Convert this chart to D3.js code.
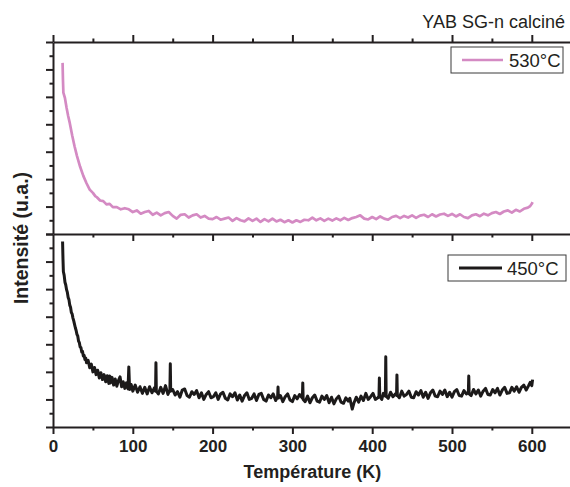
<!DOCTYPE html>
<html><head><meta charset="utf-8">
<script src="https://cdn.jsdelivr.net/npm/d3@7"></script>
<style>
html,body{margin:0;padding:0;background:#fff;}
svg{display:block;font-family:"Liberation Sans",Arial,sans-serif;}
</style></head>
<body><svg id="c" width="570" height="487"></svg>
<script>
// ---- data ----
const title = "YAB SG-n calciné";
const xLabel = "Température (K)";
const yLabel = "Intensité (u.a.)";
const xTicks = [0, 100, 200, 300, 400, 500, 600];
const xMinor = [50, 150, 250, 350, 450, 550];
const yTicks = [0, 1, 2, 3, 4, 5, 6, 7];
const yMinor = [0.5, 1.5, 2.5, 3.5, 4.5, 5.5, 6.5];
const seriesNames = ["530°C", "450°C"];

const pink530 = [[12,6.24],[12.5,5.6],[13,5.15],[15,4.95],[17,4.6],[19,4.3],[21,4.05],[24,3.6],[27,3.2],[30,2.85],[34,2.45],[38,2.12],[42,1.85],[46,1.62],[50,1.5],[53,1.38],[55,1.34],[59,1.22],[63,1.2],[67,1.08],[71,1.1],[75,0.98],[80,0.98],[85,0.9],[90,0.94],[95,0.9],[100,0.8],[105,0.86],[110,0.74],[115,0.8],[120,0.84],[125,0.7],[130,0.78],[135,0.68],[140,0.76],[145,0.8],[150,0.66],[155,0.56],[160,0.7],[165,0.72],[170,0.6],[175,0.68],[180,0.72],[185,0.6],[190,0.66],[195,0.56],[200,0.54],[205,0.62],[210,0.52],[215,0.56],[220,0.6],[225,0.48],[230,0.58],[235,0.5],[240,0.46],[245,0.57],[250,0.48],[255,0.56],[260,0.44],[265,0.54],[270,0.46],[275,0.56],[280,0.46],[285,0.52],[290,0.43],[295,0.5],[300,0.42],[305,0.5],[310,0.44],[315,0.52],[320,0.5],[325,0.6],[330,0.5],[335,0.57],[340,0.48],[345,0.56],[350,0.49],[355,0.57],[360,0.5],[365,0.59],[370,0.51],[375,0.58],[380,0.62],[385,0.68],[390,0.56],[395,0.53],[400,0.62],[405,0.54],[410,0.64],[415,0.56],[420,0.52],[425,0.62],[430,0.66],[435,0.58],[440,0.66],[445,0.6],[450,0.68],[455,0.59],[460,0.67],[465,0.7],[470,0.62],[475,0.72],[480,0.64],[485,0.71],[490,0.74],[495,0.66],[500,0.73],[505,0.64],[510,0.72],[515,0.62],[520,0.58],[525,0.68],[530,0.72],[535,0.65],[540,0.74],[545,0.68],[550,0.76],[555,0.8],[560,0.73],[565,0.82],[570,0.86],[575,0.78],[580,0.88],[585,0.82],[590,0.92],[595,0.96],[598,1.02],[600,1.1],[601,1.16]];

const black450 = [[12,6.73],[12.5,6.1],[13,5.64],[14,5.5],[15,5.25],[16,5.15],[17,4.98],[18,4.88],[19,4.7],[20,4.62],[21,4.42],[22,4.34],[23,4.15],[24,4.1],[25,3.95],[26,3.85],[27,3.72],[28,3.6],[29,3.5],[30,3.36],[31,3.3],[32,3.12],[33,3.06],[34,2.9],[35,2.88],[36,2.72],[37,2.74],[38,2.58],[39,2.6],[40,2.45],[41,2.5],[42,2.33],[44,2.42],[46,2.15],[48,2.28],[50,2.0],[52,2.16],[54,1.9],[56,2.06],[58,1.78],[60,1.97],[62,1.72],[64,1.9],[66,1.64],[68,1.86],[70,1.58],[71,1.85],[72,1.6],[74,1.8],[76,1.52],[78,1.74],[80,1.48],[82,1.68],[84,1.82],[86,1.46],[88,1.64],[90,1.4],[92,1.6],[94,1.38],[95,2.18],[96,1.36],[98,1.54],[100,1.3],[103,1.52],[106,1.26],[109,1.46],[112,1.22],[115,1.44],[118,1.2],[121,1.46],[124,1.24],[127,1.42],[128.5,1.3],[129,2.33],[129.5,1.3],[132,1.2],[135,1.44],[138,1.22],[141,1.5],[144,1.18],[146.5,1.35],[147,2.29],[147.5,1.3],[150,1.36],[153,1.16],[156,1.28],[159,1.08],[162,1.34],[165,1.38],[168,1.14],[171,1.08],[174,1.28],[177,1.18],[180,1.32],[183,1.06],[186,1.24],[189,1.0],[192,1.18],[195,1.28],[198,1.06],[201,1.1],[204,1.24],[207,1.0],[210,1.2],[213,1.26],[216,1.04],[219,0.98],[222,1.2],[225,1.1],[228,1.24],[231,0.98],[234,1.16],[237,0.94],[240,1.14],[243,1.24],[246,1.0],[249,1.04],[252,1.2],[255,0.96],[258,1.18],[261,1.22],[264,1.0],[267,0.94],[270,1.16],[273,1.06],[276,1.2],[279,0.96],[281.5,1.1],[282,1.45],[282.5,1.05],[285,1.14],[288,0.92],[291,1.1],[294,1.2],[297,0.98],[300,0.92],[303,1.14],[306,1.02],[309,1.18],[312.5,1.05],[313,1.6],[313.5,1.0],[316,0.92],[319,1.12],[322,0.88],[325,1.06],[328,1.16],[331,0.94],[334,0.9],[337,1.12],[340,1.0],[343,1.14],[346,0.88],[349,1.08],[352,0.84],[355,1.02],[358,1.12],[361,0.9],[364,0.86],[367,1.06],[370,0.94],[372,1.04],[375,0.65],[377,0.86],[380,1.08],[383,0.9],[386,1.12],[389,0.96],[392,1.22],[395,1.0],[398,1.1],[401,1.22],[404,1.0],[407,1.06],[408.5,1.12],[409,1.78],[409.5,1.1],[412,1.0],[414,1.22],[416.5,1.12],[417,2.55],[417.5,1.12],[420,1.04],[423,1.26],[426,1.1],[429,1.2],[430.5,1.15],[431,1.89],[431.5,1.15],[434,1.06],[437,1.3],[440,1.12],[443,1.18],[446,1.3],[449,1.08],[452,1.06],[455,1.28],[458,1.16],[461,1.32],[464,1.08],[467,1.26],[470,1.04],[473,1.24],[476,1.34],[479,1.12],[482,1.1],[485,1.3],[488,1.18],[491,1.34],[494,1.1],[497,1.26],[500,1.08],[503,1.28],[506,1.36],[509,1.14],[512,1.12],[515,1.32],[518,1.2],[520.5,1.25],[521,1.85],[521.5,1.2],[524,1.14],[527,1.36],[530,1.2],[533,1.34],[536,1.12],[539,1.3],[542,1.4],[545,1.18],[548,1.16],[551,1.36],[554,1.24],[557,1.4],[560,1.16],[563,1.34],[566,1.44],[569,1.22],[572,1.24],[575,1.44],[578,1.3],[581,1.46],[584,1.26],[587,1.44],[590,1.52],[593,1.34],[596,1.5],[598,1.62],[600,1.5],[601,1.72]];

// ---- layout ----
const svg = d3.select("#c");
const ink = "#231f20";
const colPink = "#d48ac3", colBlack = "#1c1a1a";
const L = 53, R = 571.7, T1 = 42, MID = 234, B = 427;

const x = d3.scaleLinear().domain([0, 650]).range([L, R]);
const yTop = d3.scaleLinear().domain([0, 7]).range([MID, T1]);
const yBot = d3.scaleLinear().domain([0, 7]).range([B, MID]);

function styleAxis(g) {
  g.selectAll("path.domain").attr("stroke", ink).attr("stroke-width", 2);
  g.selectAll(".tick line").attr("stroke", ink).attr("stroke-width", 2);
  g.selectAll("text").attr("fill", ink);
}

// lines
const lineTop = d3.line().x(d => x(d[0])).y(d => yTop(d[1]));
const lineBot = d3.line().x(d => x(d[0])).y(d => yBot(d[1]));
svg.append("path").attr("d", lineTop(pink530)).attr("fill", "none")
  .attr("stroke", colPink).attr("stroke-width", 2.7).attr("stroke-linejoin", "round");
svg.append("path").attr("d", lineBot(black450)).attr("fill", "none")
  .attr("stroke", colBlack).attr("stroke-width", 3).attr("stroke-linejoin", "round");

// top axis (ticks upward)
svg.append("g").attr("transform", `translate(0,${T1})`)
  .call(d3.axisTop(x).tickValues(xTicks).tickSize(7).tickSizeOuter(0).tickFormat(""))
  .call(styleAxis);
svg.append("g").attr("transform", `translate(0,${T1})`)
  .call(d3.axisTop(x).tickValues(xMinor).tickSize(3.5).tickFormat(""))
  .call(styleAxis).select("path.domain").remove();

// middle axis (ticks downward)
svg.append("g").attr("transform", `translate(0,${MID})`)
  .call(d3.axisBottom(x).tickValues(xTicks.slice(1)).tickSize(7).tickSizeOuter(0).tickFormat(""))
  .call(styleAxis);
svg.append("g").attr("transform", `translate(0,${MID})`)
  .call(d3.axisBottom(x).tickValues(xMinor).tickSize(3.5).tickFormat(""))
  .call(styleAxis).select("path.domain").remove();

// bottom axis
const gx = svg.append("g").attr("transform", `translate(0,${B})`)
  .call(d3.axisBottom(x).tickValues(xTicks).tickSize(7).tickSizeOuter(0).tickPadding(6))
  .call(styleAxis);
gx.selectAll("text").attr("font-size", 17).attr("font-weight", "bold")
  .attr("font-family", "'Liberation Sans', Arial, sans-serif");
svg.append("g").attr("transform", `translate(0,${B})`)
  .call(d3.axisBottom(x).tickValues(xMinor).tickSize(3.5).tickFormat(""))
  .call(styleAxis).select("path.domain").remove();

// left axes
[yTop, yBot].forEach(ys => {
  svg.append("g").attr("transform", `translate(${L},0)`)
    .call(d3.axisLeft(ys).tickValues(yTicks).tickSize(7).tickSizeOuter(0).tickFormat(""))
    .call(styleAxis);
  svg.append("g").attr("transform", `translate(${L},0)`)
    .call(d3.axisLeft(ys).tickValues(yMinor).tickSize(3.5).tickFormat(""))
    .call(styleAxis).select("path.domain").remove();
});

// labels
svg.append("text").attr("x", (L + R) / 2).attr("y", 478).attr("text-anchor", "middle")
  .attr("font-size", 18).attr("font-weight", "bold").attr("fill", ink).text(xLabel);
svg.append("text").attr("transform", `translate(28,238) rotate(-90)`).attr("text-anchor", "middle")
  .attr("font-size", 19.5).attr("font-weight", "bold").attr("fill", ink).text(yLabel);
svg.append("text").attr("x", 565).attr("y", 28).attr("text-anchor", "end")
  .attr("font-size", 18).attr("fill", ink).text(title);

// legends
const legends = [
  {name: seriesNames[0], color: colPink, bx: 451, by: 47, bw: 112, bh: 26, lx1: 462, lx2: 503, tx: 509, sw: 2.6},
  {name: seriesNames[1], color: colBlack, bx: 448, by: 255, bw: 118, bh: 26, lx1: 459, lx2: 502, tx: 507, sw: 2.8}
];
legends.forEach(l => {
  svg.append("rect").attr("x", l.bx).attr("y", l.by).attr("width", l.bw).attr("height", l.bh)
    .attr("fill", "#fff").attr("stroke", "#3a3a3a").attr("stroke-width", 1);
  const cy = l.by + l.bh / 2;
  svg.append("line").attr("x1", l.lx1).attr("x2", l.lx2).attr("y1", cy).attr("y2", cy)
    .attr("stroke", l.color).attr("stroke-width", l.sw);
  svg.append("text").attr("x", l.tx).attr("y", cy + 6.6).attr("font-size", 18.5)
    .attr("fill", ink).text(l.name);
});
</script></body></html>
